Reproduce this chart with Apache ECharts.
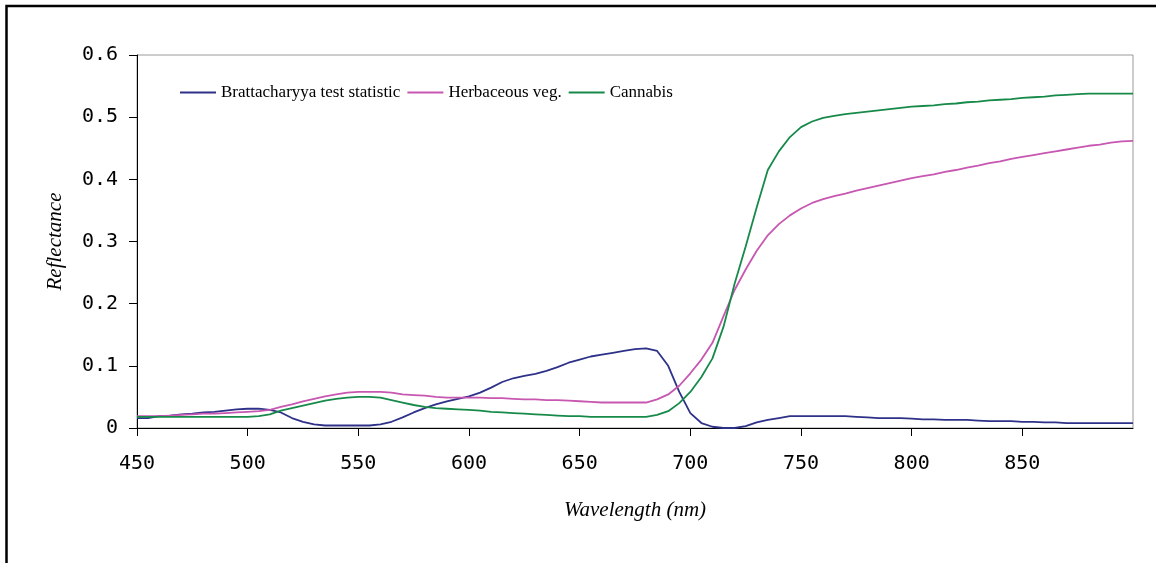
<!DOCTYPE html>
<html>
<head>
<meta charset="utf-8">
<script src="https://cdn.jsdelivr.net/npm/echarts@6/dist/echarts.min.js"></script>
<style>
html,body{margin:0;padding:0;background:#fff;}
#c{width:1156px;height:563px;}
</style>
</head>
<body>
<div id="c"></div>
<script>
var wavelengths = [450,455,460,465,470,475,480,485,490,495,500,505,510,515,520,525,530,535,540,545,550,555,560,565,570,575,580,585,590,595,600,605,610,615,620,625,630,635,640,645,650,655,660,665,670,675,680,685,690,695,700,705,710,715,720,725,730,735,740,745,750,755,760,765,770,775,780,785,790,795,800,805,810,815,820,825,830,835,840,845,850,855,860,865,870,875,880,885,890,895,900];

var brattacharyya = [0.016,0.016,0.019,0.020,0.022,0.023,0.025,0.026,0.028,0.030,0.031,0.031,0.029,0.025,0.016,0.010,0.006,0.004,0.004,0.004,0.004,0.004,0.006,0.010,0.017,0.025,0.032,0.038,0.043,0.047,0.051,0.057,0.065,0.074,0.080,0.084,0.087,0.092,0.098,0.105,0.110,0.115,0.118,0.121,0.124,0.127,0.128,0.124,0.100,0.058,0.024,0.008,0.002,0.000,0.000,0.003,0.009,0.013,0.016,0.019,0.019,0.019,0.019,0.019,0.019,0.018,0.017,0.016,0.016,0.016,0.015,0.014,0.014,0.013,0.013,0.013,0.012,0.011,0.011,0.011,0.010,0.010,0.009,0.009,0.008,0.008,0.008,0.008,0.008,0.008,0.008];

var herbaceous = [0.019,0.019,0.019,0.020,0.021,0.022,0.023,0.023,0.024,0.025,0.026,0.027,0.029,0.034,0.038,0.043,0.047,0.051,0.054,0.057,0.058,0.058,0.058,0.057,0.054,0.053,0.052,0.050,0.049,0.049,0.049,0.049,0.048,0.048,0.047,0.046,0.046,0.045,0.045,0.044,0.043,0.042,0.041,0.041,0.041,0.041,0.041,0.046,0.054,0.068,0.088,0.110,0.137,0.180,0.222,0.255,0.285,0.310,0.328,0.342,0.353,0.362,0.368,0.373,0.377,0.382,0.386,0.390,0.394,0.398,0.402,0.405,0.408,0.412,0.415,0.419,0.422,0.426,0.429,0.433,0.436,0.439,0.442,0.445,0.448,0.451,0.454,0.456,0.459,0.461,0.462];

var cannabis = [0.018,0.018,0.018,0.018,0.018,0.018,0.018,0.018,0.018,0.018,0.018,0.019,0.022,0.028,0.032,0.036,0.040,0.044,0.047,0.049,0.050,0.050,0.049,0.045,0.041,0.037,0.034,0.032,0.031,0.030,0.029,0.028,0.026,0.025,0.024,0.023,0.022,0.021,0.020,0.019,0.019,0.018,0.018,0.018,0.018,0.018,0.018,0.021,0.027,0.040,0.058,0.082,0.112,0.163,0.232,0.292,0.355,0.415,0.445,0.468,0.484,0.493,0.499,0.502,0.505,0.507,0.509,0.511,0.513,0.515,0.517,0.518,0.519,0.521,0.522,0.524,0.525,0.527,0.528,0.529,0.531,0.532,0.533,0.535,0.536,0.537,0.538,0.538,0.538,0.538,0.538];

var seriesNames = ['Brattacharyya test statistic','Herbaceous veg.','Cannabis'];
var seriesColors = ['#2e3188','#c757b0','#178a4a'];
var xTitle = 'Wavelength (nm)';
var yTitle = 'Reflectance';

function pairs(ys){ return wavelengths.map(function(w,i){ return [w, ys[i]]; }); }

var chart = echarts.init(document.getElementById('c'), null, {renderer:'canvas'});
var allData = [brattacharyya, herbaceous, cannabis];
chart.setOption({
  animation:false,
  backgroundColor:'#ffffff',
  graphic:[{
    type:'rect', shape:{x:6.5, y:6, width:1300, height:700},
    style:{fill:null, stroke:'#000', lineWidth:2.5}, silent:true, z:-1
  }],
  grid:{left:137, right:23, top:55, bottom:135, show:true, borderColor:'#9a9a9a', borderWidth:1, backgroundColor:'transparent'},
  legend:{
    left:175, top:79, itemWidth:36, itemHeight:2, itemGap:7, icon:'rect',
    textStyle:{fontFamily:'Liberation Serif', fontSize:17, color:'#000', padding:0},
    data:seriesNames.map(function(n){return {name:n};})
  },
  xAxis:{
    type:'value', min:450, max:900, interval:50,
    axisLine:{show:true, lineStyle:{color:'#000', width:1}},
    axisTick:{show:true, length:8, inside:false, lineStyle:{color:'#000'}},
    axisLabel:{showMaxLabel:false, margin:26, fontFamily:'DejaVu Sans Mono', fontSize:20, color:'#000'},
    splitLine:{show:false},
    name:xTitle, nameLocation:'middle', nameGap:72,
    nameTextStyle:{fontFamily:'Liberation Serif', fontStyle:'italic', fontSize:21, color:'#000'}
  },
  yAxis:{
    type:'value', min:0, max:0.6, interval:0.1,
    axisLine:{show:true, lineStyle:{color:'#000', width:1}},
    axisTick:{show:true, length:8, inside:false, lineStyle:{color:'#000'}},
    axisLabel:{margin:19, fontFamily:'DejaVu Sans Mono', fontSize:20, color:'#000'},
    splitLine:{show:false},
    name:yTitle, nameLocation:'middle', nameGap:71,
    nameTextStyle:{fontFamily:'Liberation Serif', fontStyle:'italic', fontSize:21, color:'#000'}
  },
  series:seriesNames.map(function(n,i){
    return {
      name:n, type:'line', data:pairs(allData[i]), symbol:'none', showSymbol:false,
      smooth:false, lineStyle:{color:seriesColors[i], width:1.8}, itemStyle:{color:seriesColors[i]}
    };
  })
});
</script>
</body>
</html>
